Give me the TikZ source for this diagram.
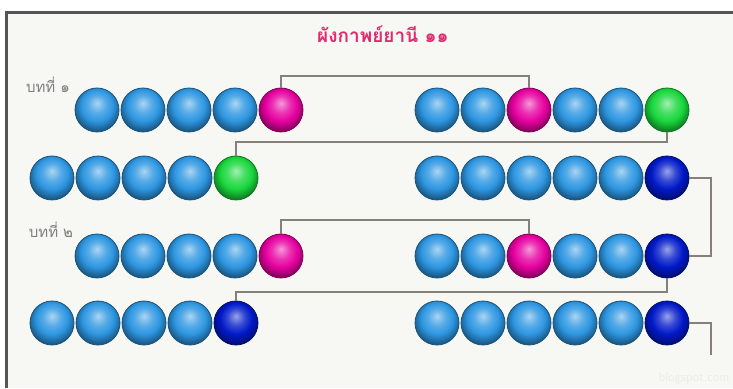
\documentclass[tikz,border=0pt]{standalone}
\usepackage{fontspec}
\newfontfamily\thaifont[Script=Thai]{Loma}
\usetikzlibrary{positioning}

\definecolor{paper}{RGB}{247,247,243}
\definecolor{framegray}{RGB}{85,85,85}
\definecolor{linkgray}{RGB}{135,128,122}
\definecolor{titlepink}{RGB}{222,45,110}
\definecolor{beadblue}{RGB}{45,150,225}
\definecolor{beadpink}{RGB}{230,0,160}
\definecolor{beadgreen}{RGB}{25,215,60}
\definecolor{beadnavy}{RGB}{0,25,200}
\colorlet{beadcolor}{beadblue}

% glossy bead shading, follows the colour in beadcolor
\pgfdeclareradialshading[beadcolor]{glossbead}{\pgfpoint{0bp}{8bp}}{%
  color(0bp)=(beadcolor!40!white);
  color(10bp)=(beadcolor!80!white);
  color(18bp)=(beadcolor);
  color(27bp)=(beadcolor!60!black);
  color(50bp)=(beadcolor!35!black)}

\begin{document}
\begin{tikzpicture}[
    x=1pt, y=1pt,
    bead/.style={circle,minimum size=44pt,inner sep=0pt,
        /utils/exec={\colorlet{beadcolor}{#1}},shading=glossbead,
        draw=#1!55!black,line width=0.8pt},
    bead/.default=beadblue,
    link/.style={draw=linkgray,line width=2pt},
    label text/.style={font=\thaifont\fontsize{15}{17}\selectfont,text=black!50}
]
\useasboundingbox (0,0) rectangle (733,388);

% Paper and frame
\fill[paper] (6,0) rectangle (733,375);
\draw[framegray,line width=3pt] (6,0) -- (6,375) -- (733,375);

% Title and verse labels
\node[font=\thaifont\bfseries\fontsize{19}{21}\selectfont,text=titlepink] (title) at (383,354) {ผังกาพย์ยานี ๑๑};
\node[label text] (verse1) at (48,303) {บทที่ ๑};
\node[label text] (verse2) at (51,158) {บทที่ ๒};

% Row 1
\foreach \i/\c in {1/beadblue,2/beadblue,3/beadblue,4/beadblue,5/beadpink}
    \node[bead=\c] (r1_left\i) at ({97+46*(\i-1)},278) {};
\foreach \i/\c in {1/beadblue,2/beadblue,3/beadpink,4/beadblue,5/beadblue,6/beadgreen}
    \node[bead=\c] (r1_right\i) at ({437+46*(\i-1)},278) {};

% Row 2
\foreach \i/\c in {1/beadblue,2/beadblue,3/beadblue,4/beadblue,5/beadgreen}
    \node[bead=\c] (r2_left\i) at ({52+46*(\i-1)},210) {};
\foreach \i/\c in {1/beadblue,2/beadblue,3/beadblue,4/beadblue,5/beadblue,6/beadnavy}
    \node[bead=\c] (r2_right\i) at ({437+46*(\i-1)},210) {};

% Row 3
\foreach \i/\c in {1/beadblue,2/beadblue,3/beadblue,4/beadblue,5/beadpink}
    \node[bead=\c] (r3_left\i) at ({97+46*(\i-1)},132) {};
\foreach \i/\c in {1/beadblue,2/beadblue,3/beadpink,4/beadblue,5/beadblue,6/beadnavy}
    \node[bead=\c] (r3_right\i) at ({437+46*(\i-1)},132) {};

% Row 4
\foreach \i/\c in {1/beadblue,2/beadblue,3/beadblue,4/beadblue,5/beadnavy}
    \node[bead=\c] (r4_left\i) at ({52+46*(\i-1)},65) {};
\foreach \i/\c in {1/beadblue,2/beadblue,3/beadblue,4/beadblue,5/beadblue,6/beadnavy}
    \node[bead=\c] (r4_right\i) at ({437+46*(\i-1)},65) {};

% Rhyme links
\draw[link] (r1_left5.north) -- ++(0,12) -| (r1_right3.north);
\draw[link] (r1_right6.south) -- ++(0,-10) -| (r2_left5.north);
\draw[link] (r2_right6.east) -- ++(22,0) |- (r3_right6.east);
\draw[link] (r3_left5.north) -- ++(0,14) -| (r3_right3.north);
\draw[link] (r3_right6.south) -- ++(0,-14) -| (r4_left5.north);
\coordinate (tail) at ([xshift=22pt,yshift=-32pt]r4_right6.east);
\draw[link] (r4_right6.east) -| (tail);

% Watermark
\node[font=\sffamily\fontsize{13}{14}\selectfont,text=black!8,anchor=south east] (mark) at (733,0) {blogspot.com};

\end{tikzpicture}
\end{document}
